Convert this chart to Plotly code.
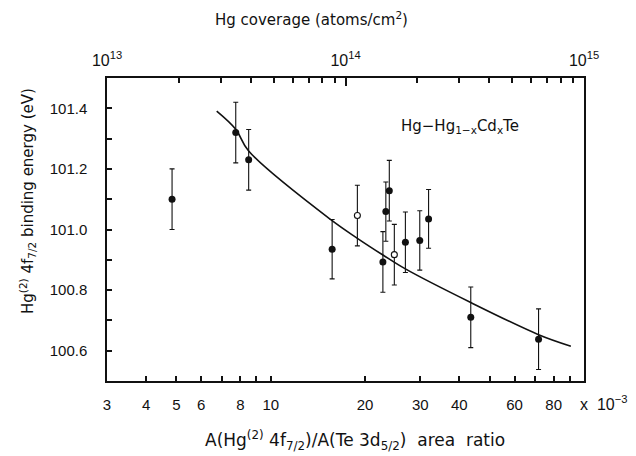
import plotly.graph_objects as go

# ---- data (area ratio in units of 1e-3, binding energy in eV) ----
filled_x = [4.84, 7.73, 8.5, 15.7, 22.8, 23.3, 23.9, 26.9, 29.9, 31.9, 43.5, 71.6]
filled_y = [101.10, 101.32, 101.23, 100.935, 100.893, 101.059, 101.128, 100.958, 100.964, 101.035, 100.71, 100.638]
filled_err = [0.1, 0.1, 0.1, 0.098, 0.1, 0.098, 0.1, 0.1, 0.098, 0.097, 0.1, 0.1]

open_x = [18.9, 24.8]
open_y = [101.046, 100.917]
open_err = [0.1, 0.1]

curve_x = [6.72, 7.73, 8.5, 15.7, 18.9, 22.8, 26.9, 43.5, 71.6, 90.8]
curve_y = [101.391, 101.331, 101.259, 101.029, 100.971, 100.916, 100.870, 100.759, 100.653, 100.615]

bottom_tickvals = [3, 4, 5, 6, 7, 8, 9, 10, 20, 30, 40, 50, 60, 70, 80, 90]
bottom_ticktext = ["3", "4", "5", "6", "", "8", "", "10", "20", "30", "40", "", "60", "", "80", ""]

y_tickvals = [100.5, 100.6, 100.7, 100.8, 100.9, 101.0, 101.1, 101.2, 101.3, 101.4, 101.5]
y_ticktext = ["", "100.6", "", "100.8", "", "101.0", "", "101.2", "", "101.4", ""]

top_major = [1e13, 1e14, 1e15]
top_major_text = ["10<sup>13</sup>", "10<sup>14</sup>", "10<sup>15</sup>"]
top_minor = [2e13, 3e13, 4e13, 5e13, 6e13, 7e13, 8e13, 9e13,
             2e14, 3e14, 4e14, 5e14, 6e14, 7e14, 8e14, 9e14]

FONT = "Liberation Sans, Arial, sans-serif"
TFONT = "DejaVu Sans, Verdana, sans-serif"
INK = "#111111"

fig = go.Figure()

fig.add_trace(go.Scatter(
    x=curve_x, y=curve_y, mode="lines", line=dict(color=INK, width=1.6, shape="spline"),
    hoverinfo="skip", showlegend=False))

fig.add_trace(go.Scatter(
    x=filled_x, y=filled_y, mode="markers",
    marker=dict(symbol="circle", size=7, color=INK),
    error_y=dict(type="data", array=filled_err, visible=True, color=INK, thickness=1.1, width=2.5),
    showlegend=False))

fig.add_trace(go.Scatter(
    x=open_x, y=open_y, mode="markers",
    marker=dict(symbol="circle", size=6, color="white", line=dict(color=INK, width=1.1)),
    error_y=dict(type="data", array=open_err, visible=True, color=INK, thickness=1.1, width=2.5),
    showlegend=False))

# empty trace that creates the thin top subplot carrying the coverage axis
fig.add_trace(go.Scatter(x=top_major, y=[None] * len(top_major), xaxis="x2", yaxis="y2",
                         mode="markers", showlegend=False))

L, R, T, B = 107, 52, 78, 75
W, H = 636, 456
pw, ph = W - L - R, H - T - B

def px(xp):
    return (xp - L) / pw

def py(yp):
    return (H - B - yp) / ph

fig.update_layout(
    width=W, height=H,
    margin=dict(l=L, r=R, t=T, b=B),
    paper_bgcolor="white", plot_bgcolor="rgba(0,0,0,0)",
    font=dict(family=FONT, size=15, color=INK),
    xaxis=dict(
        type="log", range=[0.47712125, 2.0], domain=[0, 1], anchor="y",
        tickvals=bottom_tickvals, ticktext=bottom_ticktext,
        ticks="inside", ticklen=5, tickwidth=1.5, tickcolor=INK,
        showline=True, linecolor=INK, linewidth=1.5, mirror=True,
        showgrid=False, zeroline=False, ticklabelstandoff=9,
        tickfont=dict(size=15, family=FONT, color=INK),
    ),
    yaxis=dict(
        range=[100.5, 101.5], domain=[0, 1], anchor="x",
        tickvals=y_tickvals, ticktext=y_ticktext,
        ticks="inside", ticklen=5, tickwidth=1.5, tickcolor=INK,
        showline=True, linecolor=INK, linewidth=1.5, mirror=True,
        showgrid=False, zeroline=False, ticklabelstandoff=15,
        tickfont=dict(size=15, family=FONT, color=INK),
    ),
    xaxis2=dict(
        type="log", range=[13, 15], domain=[0, 1], anchor="y2", side="top",
        tickmode="array", tickvals=top_major, ticktext=top_major_text,
        ticks="inside", ticklen=8, tickwidth=1.5, tickcolor=INK,
        minor=dict(tickmode="array", tickvals=top_minor, ticks="inside", ticklen=5,
                   tickwidth=1.5, tickcolor=INK, showgrid=False),
        showline=True, linecolor=INK, linewidth=1.5,
        showgrid=False, zeroline=False, ticklabelstandoff=4,
        tickfont=dict(size=16, family=FONT, color=INK),
    ),
    yaxis2=dict(
        domain=[0.995, 1], anchor="x2", range=[0, 1],
        visible=False, showgrid=False, zeroline=False,
    ),
    showlegend=False,
)

annotations = [
    dict(text="Hg coverage (atoms/cm<sup>2</sup>)", x=px(311), y=py(19),
         font=dict(size=15, family=TFONT)),
    dict(text="A(Hg<sup>(2)</sup> 4f<sub>7/2</sub>)/A(Te 3d<sub>5/2</sub>)  area  ratio",
         x=px(355), y=py(440), font=dict(size=17, family=TFONT)),
    dict(text="Hg<sup>(2)</sup> 4f<sub>7/2</sub> binding energy (eV)", x=px(27), y=py(201),
         textangle=-90, font=dict(size=15, family=TFONT)),
    dict(text="Hg\u2212Hg<sub>1\u2212x</sub>Cd<sub>x</sub>Te", x=px(460), y=py(127),
         font=dict(size=15, family=TFONT)),
    dict(text="x  10<sup>\u22123</sup>", x=px(603), y=py(403), font=dict(size=16, family=FONT)),
]
for a in annotations:
    a.update(xref="paper", yref="paper", showarrow=False, xanchor="center", yanchor="middle")
fig.update_layout(annotations=annotations)

fig.write_html("out.html")
